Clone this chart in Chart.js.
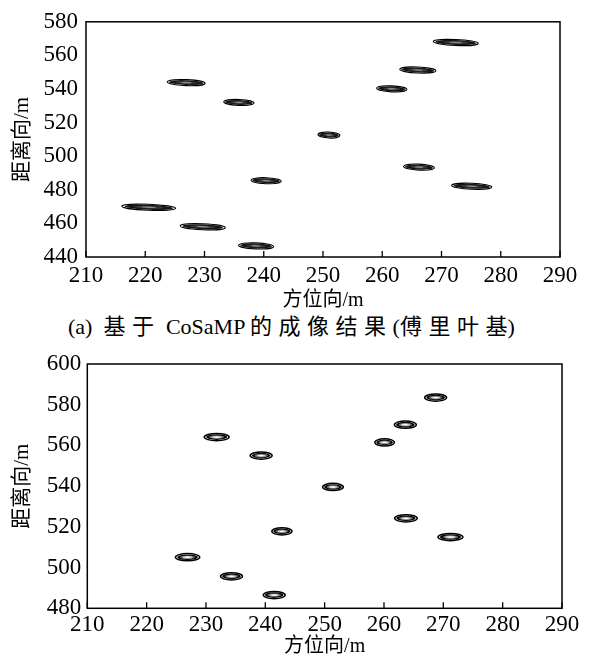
<!DOCTYPE html>
<html><head><meta charset="utf-8">
<script src="https://cdn.jsdelivr.net/npm/chart.js@4"></script>
<style>
html,body{margin:0;padding:0;background:#fff;}
#wrap{position:relative;width:592px;height:664px;background:#fff;overflow:hidden;}
#c1{position:absolute;left:0;top:0;}
#c2{position:absolute;left:0;top:338px;}
#cap{position:absolute;left:68px;top:314px;height:26px;line-height:26px;font-size:22px;white-space:pre;color:#000;}
#cap .cj{letter-spacing:6.5px;}
</style></head>
<body><div id="wrap">
<canvas id="c1" width="592" height="313"></canvas>
<div id="cap">(a)  <span class="cj">基于</span> CoSaMP <span class="cj">的成像结果</span>(<span class="cj">傅里叶</span>基)</div>
<canvas id="c2" width="592" height="326"></canvas>
</div>
<script>
// ---- data ----
const xTickValues = [210, 220, 230, 240, 250, 260, 270, 280, 290];
const topYTicks = [440, 460, 480, 500, 520, 540, 560, 580];
const botYTicks = [480, 500, 520, 540, 560, 580, 600];

// (a) CoSaMP, Fourier basis: target azimuth (m), range (m), azimuth spot extent (m)
const topAzimuth = [226.9, 235.8, 240.4, 220.6, 229.7, 238.7, 272.4, 266.0, 261.6, 251.0, 266.2, 275.1];
const topRange   = [543.8, 532.0, 485.4, 469.6, 458.0, 446.6, 567.7, 551.3, 540.1, 512.6, 493.5, 482.1];
const topSpotLen = [6.4, 5.1, 5.1, 9.1, 7.6, 5.9, 7.6, 6.1, 5.1, 3.7, 5.2, 6.8];

// second result
const botAzimuth = [231.8, 239.3, 242.8, 226.9, 234.3, 241.5, 268.7, 263.6, 260.1, 251.4, 263.7, 271.2];
const botRange   = [564.1, 555.0, 517.8, 505.1, 495.7, 486.5, 583.5, 570.2, 561.5, 539.6, 524.2, 515.0];
const botSpotLen = [4.2, 3.7, 3.4, 4.1, 3.7, 3.7, 3.7, 3.7, 3.3, 3.5, 3.8, 4.2];

const xTitle = '方位向/m';
const yTitle = '距离向/m';

// pick an installed Times-like serif
function pickSerif(cands) {
  const c = document.createElement('canvas').getContext('2d');
  const s = '0123456789 CoSaMP (a) mmmWWiil';
  c.font = '40px monospace'; const bm = c.measureText(s).width;
  for (const f of cands) {
    c.font = '40px "' + f + '", monospace'; const w1 = c.measureText(s).width;
    c.font = '40px "' + f + '", sans-serif'; const w2 = c.measureText(s).width;
    if (Math.abs(w1 - w2) < 0.01 && Math.abs(w1 - bm) > 0.01) return f;
  }
  return null;
}
const serif = pickSerif(['Liberation Serif', 'Times New Roman', 'Tinos', 'Times', 'DejaVu Serif', 'Noto Serif']);
const FAMILY = (serif ? '"' + serif + '",' : '') + '"Noto Sans CJK SC",serif';
document.getElementById('cap').style.fontFamily = FAMILY;

// ---- drawing ----
function drawSpot(ctx, cx, cy, rx, ry, tilt, rings) {
  rings.forEach(r => {
    ctx.save();
    ctx.beginPath();
    ctx.ellipse(cx, cy, Math.max(rx * r.kx, 0.5), Math.max(ry * r.ky, 0.5), tilt, 0, Math.PI * 2);
    if (r.fill) { ctx.fillStyle = r.fill; ctx.fill(); }
    if (r.stroke) { ctx.strokeStyle = r.stroke; ctx.lineWidth = r.lw || 1; ctx.stroke(); }
    ctx.restore();
  });
}

const spotPlugin = {
  id: 'spots',
  afterDatasetsDraw(chart, args, opts) {
    const ctx = chart.ctx, a = chart.chartArea, xs = chart.scales.x;
    const ds = chart.data.datasets[0];
    const meta = chart.getDatasetMeta(0);
    ctx.save();
    ctx.beginPath();
    ctx.rect(a.left, a.top, a.right - a.left, a.bottom - a.top);
    ctx.clip();
    meta.data.forEach((el, i) => {
      const p = ds.data[i], len = ds.spotLen[i];
      const rx = (xs.getPixelForValue(p.x + len / 2) - xs.getPixelForValue(p.x - len / 2)) / 2;
      drawSpot(ctx, el.x, el.y, rx, opts.ry, opts.tilt, opts.rings);
    });
    ctx.restore();
    ctx.save();
    ctx.strokeStyle = '#000';
    ctx.lineWidth = 1.5;
    ctx.strokeRect(a.left, a.top, a.right - a.left, a.bottom - a.top);
    ctx.lineWidth = 1.3;
    xs.ticks.forEach(t => {
      const px = xs.getPixelForValue(t.value);
      ctx.beginPath();
      ctx.moveTo(px, a.bottom);
      ctx.lineTo(px, a.bottom - 6);
      ctx.stroke();
    });
    ctx.restore();
  }
};

function makeChart(id, az, rg, len, yTicks, cfg) {
  return new Chart(document.getElementById(id), {
    type: 'scatter',
    data: { datasets: [{ data: az.map((v, i) => ({ x: v, y: rg[i] })), spotLen: len, pointRadius: 0, pointHoverRadius: 0, showLine: false }] },
    options: {
      responsive: false, animation: false, events: [],
      layout: { padding: { top: cfg.padTop, right: cfg.padRight, left: 0, bottom: 0 } },
      plugins: {
        legend: { display: false }, tooltip: { enabled: false },
        spots: { ry: cfg.ry, tilt: cfg.tilt, rings: cfg.rings }
      },
      scales: {
        x: {
          type: 'linear', min: xTickValues[0], max: xTickValues[xTickValues.length - 1],
          afterBuildTicks: s => { s.ticks = xTickValues.map(v => ({ value: v })); },
          afterFit: s => { s.height = cfg.xH; },
          grid: { display: false, drawTicks: false }, border: { display: false },
          ticks: { color: '#000', font: { family: FAMILY, size: 23 }, padding: cfg.xPad, maxRotation: 0, autoSkip: false },
          title: { display: true, text: xTitle, color: '#000', font: { family: FAMILY, size: 20 }, padding: { top: 0, bottom: cfg.xTitlePad } }
        },
        y: {
          type: 'linear', min: yTicks[0], max: yTicks[yTicks.length - 1],
          afterBuildTicks: s => { s.ticks = yTicks.map(v => ({ value: v })); },
          afterFit: s => { s.width = cfg.yW; },
          grid: { display: false, drawTicks: false }, border: { display: false },
          ticks: { color: '#000', font: { family: FAMILY, size: 23 }, padding: cfg.yPad, autoSkip: false },
          title: { display: true, text: yTitle, color: '#000', font: { family: FAMILY, size: 21 }, padding: { top: 10, bottom: 0 } }
        }
      }
    },
    plugins: [spotPlugin]
  });
}

makeChart('c1', topAzimuth, topRange, topSpotLen, topYTicks, {
  padTop: 15.5, padRight: 32, xH: 56, yW: 86, xPad: 5, yPad: 8, xTitlePad: 0,
  ry: 3.0, tilt: 0.04,
  rings: [
    { kx: 1, ky: 1, fill: '#fff', stroke: '#000', lw: 1.1 },
    { kx: 0.9, ky: 0.82, fill: '#161616' },
    { kx: 0.55, ky: 0.45, fill: '#3a3a3a' },
    { kx: 0.28, ky: 0.25, fill: '#888' }
  ]
});

makeChart('c2', botAzimuth, botRange, botSpotLen, botYTicks, {
  padTop: 26, padRight: 30, xH: 55.7, yW: 87.3, xPad: 3, yPad: 6, xTitlePad: 5,
  ry: 3.6, tilt: 0,
  rings: [
    { kx: 1, ky: 1, fill: '#fff', stroke: '#000', lw: 1.5 },
    { kx: 0.85, ky: 0.78, fill: '#000' },
    { kx: 0.62, ky: 0.5, fill: '#666' },
    { kx: 0.42, ky: 0.33, fill: '#ccc' },
    { kx: 0.22, ky: 0.18, fill: '#fff' }
  ]
});
</script>
</body></html>
